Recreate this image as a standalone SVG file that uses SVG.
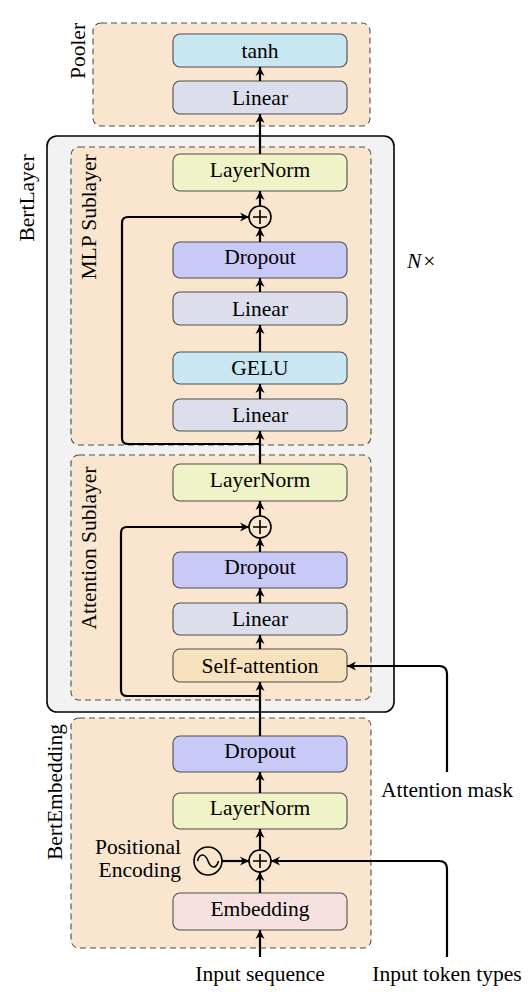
<svg xmlns="http://www.w3.org/2000/svg" width="532" height="994" viewBox="0 0 532 994">
<defs>
<style>
.t{font-size:21.5px;fill:#000;}
.c{text-anchor:middle;}
.cont{fill:#fae6cf;stroke:#4d4d4d;stroke-width:1.1;stroke-dasharray:6,4;}
.box{stroke:#4d4d4d;stroke-width:1.1;}
.lin{fill:#dcdeec;}
.act{fill:#c9e6f3;}
.ln{fill:#f0f3c8;}
.drop{fill:#c9c9f8;}
.sa{fill:#f8e2be;}
.emb{fill:#f6e0e0;}
.w{fill:none;stroke:#000;stroke-width:2.2;stroke-linejoin:round;}
.a{marker-end:url(#arr);}
.op{fill:none;stroke:#000;stroke-width:1.6;}
</style>
<marker id="arr" markerUnits="userSpaceOnUse" markerWidth="12" markerHeight="12" viewBox="0 0 12 12" refX="10" refY="6" orient="auto">
<path d="M1,1.5 L10,6 L1,10.5 L3.8,6 Z" fill="#000"/>
</marker>
</defs>
<g font-family="Liberation Serif, DejaVu Serif, serif">
<g id="pooler">
<rect class="cont" x="93" y="23" width="277" height="103" rx="8"/>
<text class="t c" transform="translate(85,51) rotate(-90)">Pooler</text>
</g>
<g id="pooler-tanh">
<rect class="box act" x="173" y="34" width="174" height="33" rx="7"/>
<text class="t c" x="260" y="57.5">tanh</text>
</g>
<g id="pooler-linear">
<rect class="box lin" x="173" y="81" width="174" height="33" rx="7"/>
<text class="t c" x="260" y="104.5">Linear</text>
</g>

<g id="bertlayer">
<rect x="47" y="136" width="347" height="576" rx="10" fill="#f2f2f2" stroke="#000" stroke-width="1.6"/>
<text class="t c" transform="translate(34,198) rotate(-90)">BertLayer</text>
<text class="t" x="407" y="268"><tspan font-style="italic">N</tspan><tspan dx="2">×</tspan></text>
</g>

<g id="mlp-sublayer">
<rect class="cont" x="71" y="147" width="300" height="298" rx="8"/>
<text class="t c" transform="translate(96,217) rotate(-90)">MLP Sublayer</text>
</g>
<g id="mlp-layernorm">
<rect class="box ln" x="173" y="154" width="174" height="37" rx="7"/>
<text class="t c" x="260" y="177">LayerNorm</text>
</g>
<g id="mlp-add">
<circle class="op" cx="260" cy="217" r="11"/>
<path class="op" d="M253,217 H267 M260,210 V224"/>
</g>
<g id="mlp-dropout">
<rect class="box drop" x="173" y="242" width="174" height="36" rx="7"/>
<text class="t c" x="260" y="264">Dropout</text>
</g>
<g id="mlp-linear2">
<rect class="box lin" x="173" y="292" width="174" height="33" rx="7"/>
<text class="t c" x="260" y="315.5">Linear</text>
</g>
<g id="mlp-gelu">
<rect class="box act" x="173" y="352" width="174" height="32" rx="7"/>
<text class="t c" x="260" y="375">GELU</text>
</g>
<g id="mlp-linear1">
<rect class="box lin" x="173" y="399" width="174" height="32" rx="7"/>
<text class="t c" x="260" y="422">Linear</text>
</g>

<g id="attention-sublayer">
<rect class="cont" x="71" y="455" width="300" height="245" rx="8"/>
<text class="t c" transform="translate(96,548) rotate(-90)">Attention Sublayer</text>
</g>
<g id="attn-layernorm">
<rect class="box ln" x="173" y="464" width="174" height="37" rx="7"/>
<text class="t c" x="260" y="487">LayerNorm</text>
</g>
<g id="attn-add">
<circle class="op" cx="260" cy="527" r="11"/>
<path class="op" d="M253,527 H267 M260,520 V534"/>
</g>
<g id="attn-dropout">
<rect class="box drop" x="173" y="552" width="174" height="36" rx="7"/>
<text class="t c" x="260" y="574">Dropout</text>
</g>
<g id="attn-linear">
<rect class="box lin" x="173" y="603" width="174" height="32" rx="7"/>
<text class="t c" x="260" y="626">Linear</text>
</g>
<g id="self-attention">
<rect class="box sa" x="173" y="649" width="174" height="33" rx="7"/>
<text class="t c" x="260" y="672.5">Self-attention</text>
</g>

<g id="bertembedding">
<rect class="cont" x="71" y="718" width="300" height="230" rx="8"/>
<text class="t c" transform="translate(62,792) rotate(-90)">BertEmbedding</text>
</g>
<g id="emb-dropout">
<rect class="box drop" x="173" y="736" width="174" height="36" rx="7"/>
<text class="t c" x="260" y="758">Dropout</text>
</g>
<g id="emb-layernorm">
<rect class="box ln" x="173" y="793" width="174" height="36" rx="7"/>
<text class="t c" x="260" y="815">LayerNorm</text>
</g>
<g id="emb-add">
<circle class="op" cx="260" cy="861" r="11"/>
<path class="op" d="M253,861 H267 M260,854 V868"/>
</g>
<g id="positional-encoding">
<circle class="op" cx="208" cy="861" r="14"/>
<path class="op" d="M197.5,861 C199.5,853 205,853 208,861 C211,869 216.5,869 218.5,861"/>
<text class="t" text-anchor="end" x="181" y="854">Positional</text>
<text class="t" text-anchor="end" x="181" y="877">Encoding</text>
</g>
<g id="embedding">
<rect class="box emb" x="173" y="893" width="174" height="37" rx="7"/>
<text class="t c" x="260" y="916">Embedding</text>
</g>

<g id="input-sequence"><text class="t c" x="260" y="981">Input sequence</text></g>
<g id="input-token-types"><text class="t c" x="447" y="981">Input token types</text></g>
<g id="attention-mask"><text class="t c" x="447" y="797">Attention mask</text></g>
</g>
<g id="connectors">
<path class="w a" d="M260,81 V67"/>
<path class="w a" d="M260,154 V114"/>
<path class="w a" d="M260,206 V191"/>
<path class="w a" d="M260,242 V228"/>
<path class="w a" d="M260,292 V278"/>
<path class="w a" d="M260,352 V325"/>
<path class="w a" d="M260,399 V384"/>
<path class="w a" d="M260,464 V431"/>
<path class="w a" d="M260,444 H128 Q122,444 122,438 V223 Q122,217 128,217 H249"/>
<path class="w a" d="M260,516 V501"/>
<path class="w a" d="M260,552 V538"/>
<path class="w a" d="M260,603 V588"/>
<path class="w a" d="M260,649 V635"/>
<path class="w a" d="M260,736 V682"/>
<path class="w a" d="M260,696 H127 Q121,696 121,690 V533 Q121,527 127,527 H249"/>
<path class="w a" d="M447,772 V674 Q447,666 439,666 H347"/>
<path class="w a" d="M260,793 V772"/>
<path class="w a" d="M260,850 V829"/>
<path class="w a" d="M260,893 V872"/>
<path class="w a" d="M260,957 V930"/>
<path class="w a" d="M222,861 H249"/>
<path class="w a" d="M447,957 V869 Q447,861 439,861 H271"/>
</g>
</svg>
